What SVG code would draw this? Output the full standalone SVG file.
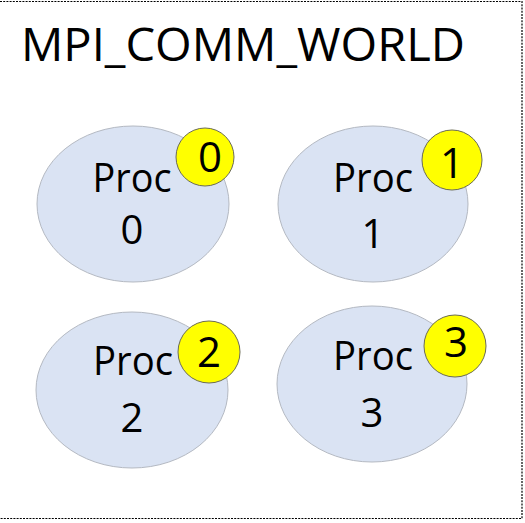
<svg xmlns="http://www.w3.org/2000/svg" width="525" height="523" viewBox="0 0 525 523">
  <style>
    .frame { fill: none; stroke: #000; stroke-width: 1.2; stroke-dasharray: 2 1.2; }
    .title { font-family: "Open Sans", "Liberation Sans", sans-serif; font-size: 46px; fill: #000; }
    .proc { fill: #dae3f3; stroke: #b4b9c2; stroke-width: 1; }
    .label { font-family: "Open Sans", "Liberation Sans", sans-serif; font-size: 40px; fill: #000; text-anchor: middle; }
    .badge { fill: #ffff00; stroke: #6b6b55; stroke-width: 1; }
    .rank { font-family: "Open Sans", "Liberation Sans", sans-serif; font-size: 42px; fill: #000; text-anchor: middle; }
  </style>

  <!-- communicator boundary (open on the left) -->
  <path class="frame" d="M0 1.5 H522 V518.5 H0"/>

  <text class="title" x="21" y="61" textLength="444" lengthAdjust="spacingAndGlyphs">MPI_COMM_WORLD</text>

  <g id="proc0">
    <ellipse class="proc" cx="133" cy="204" rx="96" ry="78"/>
    <text class="label" x="132" y="192" textLength="79" lengthAdjust="spacingAndGlyphs">Proc</text>
    <text class="label" x="132" y="244">0</text>
    <circle class="badge" cx="205" cy="157" r="29"/>
    <text class="rank" x="210" y="172">0</text>
  </g>

  <g id="proc1">
    <ellipse class="proc" cx="373" cy="204" rx="95" ry="78"/>
    <text class="label" x="373" y="192" textLength="80" lengthAdjust="spacingAndGlyphs">Proc</text>
    <text class="label" x="373" y="248">1</text>
    <circle class="badge" cx="452" cy="160" r="30"/>
    <text class="rank" x="452" y="178">1</text>
  </g>

  <g id="proc2">
    <ellipse class="proc" cx="132" cy="390" rx="96" ry="78"/>
    <text class="label" x="133" y="375" textLength="80" lengthAdjust="spacingAndGlyphs">Proc</text>
    <text class="label" x="132" y="432">2</text>
    <circle class="badge" cx="209" cy="352" r="31"/>
    <text class="rank" x="209" y="367">2</text>
  </g>

  <g id="proc3">
    <ellipse class="proc" cx="372" cy="384" rx="95" ry="78"/>
    <text class="label" x="373" y="370" textLength="80" lengthAdjust="spacingAndGlyphs">Proc</text>
    <text class="label" x="372" y="427">3</text>
    <circle class="badge" cx="455" cy="346" r="31"/>
    <text class="rank" x="456" y="357">3</text>
  </g>
</svg>
